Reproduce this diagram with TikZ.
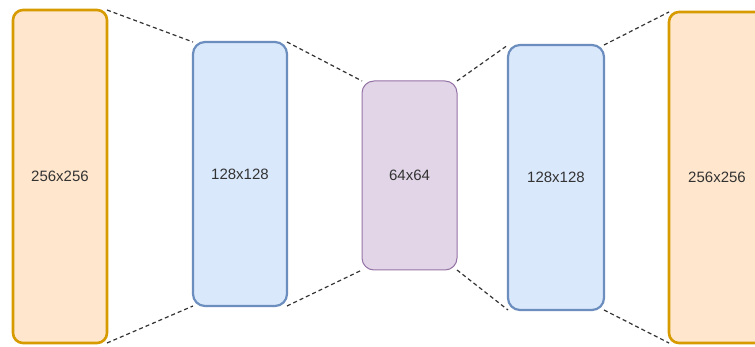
\documentclass[tikz,border=0pt]{standalone}
\usepackage{fontspec}
\setmainfont{Liberation Sans}
\definecolor{orfill}{HTML}{FFE6CC}
\definecolor{ordraw}{HTML}{D79B00}
\definecolor{blfill}{HTML}{DAE8FC}
\definecolor{bldraw}{HTML}{6C8EBF}
\definecolor{pufill}{HTML}{E1D5E7}
\definecolor{pudraw}{HTML}{9673A6}
\definecolor{dashcol}{HTML}{333333}
\tikzset{
  layer/.style={rectangle, rounded corners=10pt, outer sep=0pt, inner sep=0pt,
    font=\fontsize{15}{18}\selectfont, text=black!80},
  orbox/.style={layer, fill=orfill, draw=ordraw, line width=2.6pt},
  blbox/.style={layer, fill=blfill, draw=bldraw, line width=2.2pt, rounded corners=12pt},
  pubox/.style={layer, fill=pufill, draw=pudraw, line width=1pt, rounded corners=12pt},
  conn/.style={draw=dashcol, line width=1.2pt, dash pattern=on 4pt off 3pt}
}
\begin{document}
\begin{tikzpicture}[x=1pt, y=-1pt]
\clip (0,0) rectangle (755,347);
\useasboundingbox (0,0) rectangle (755,347);
\fill[white] (0,0) rectangle (755,347);
\node[orbox, minimum width=94pt, minimum height=333pt] (o1) at (60,176.5) {256x256};
\node[blbox, minimum width=94pt, minimum height=264pt] (b1) at (240,174) {128x128};
\node[pubox, minimum width=95pt, minimum height=189pt] (m) at (409.5,175.5) {64x64};
\node[blbox, minimum width=96pt, minimum height=265pt] (b2) at (556,177.5) {128x128};
\node[orbox, minimum width=96pt, minimum height=331pt] (o2) at (717,177.5) {256x256};
\draw[conn] (o1.north east) -- (b1.north west);
\draw[conn] (o1.south east) -- (b1.south west);
\draw[conn] (b1.north east) -- (m.north west);
\draw[conn] (b1.south east) -- (m.south west);
\draw[conn] (m.north east) -- (b2.north west);
\draw[conn] (m.south east) -- (b2.south west);
\draw[conn] (b2.north east) -- (o2.north west);
\draw[conn] (b2.south east) -- (o2.south west);
\end{tikzpicture}
\end{document}
